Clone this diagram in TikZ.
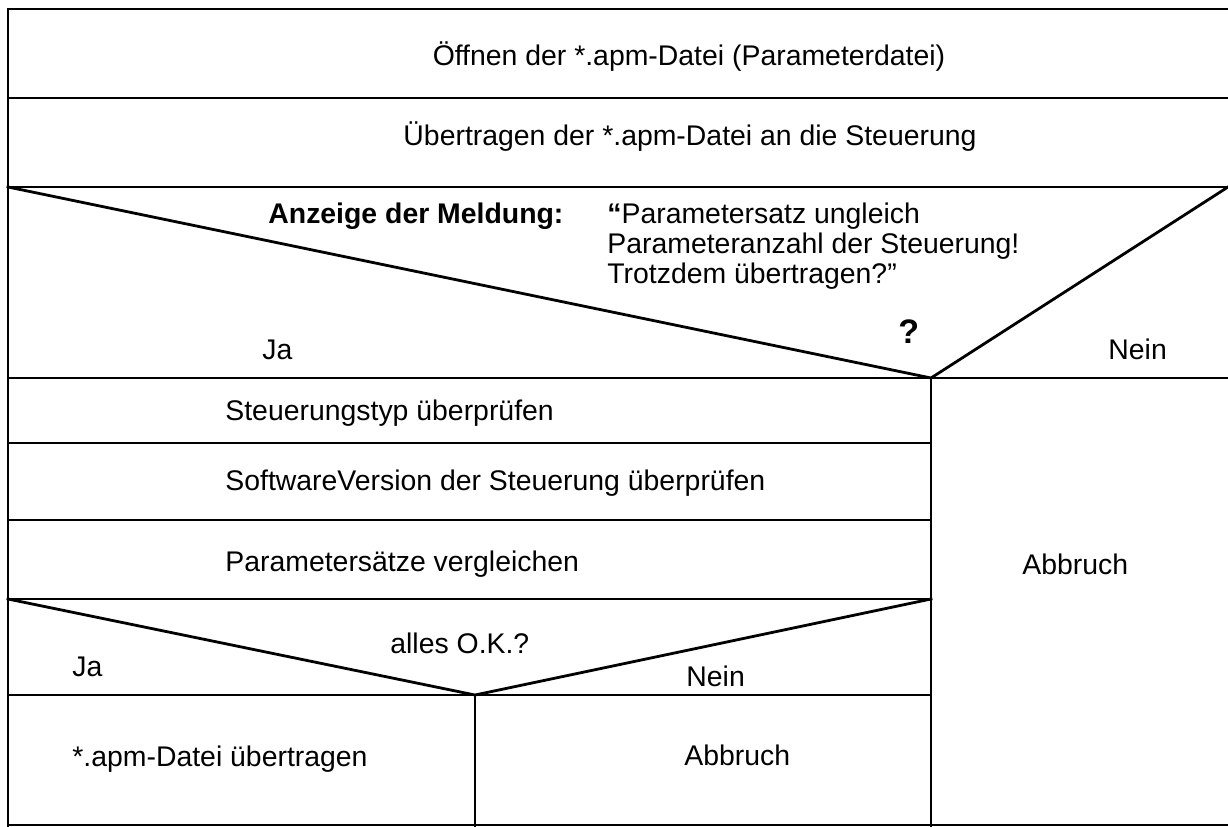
\documentclass[tikz,border=0pt]{standalone}
\usepackage{fontspec}
\setmainfont{Liberation Sans}
\begin{document}
\begin{tikzpicture}[x=0.5pt,y=-0.5pt,
  frame/.style={line width=1.4pt, line cap=rect},
  lbl/.style={inner sep=0pt, font=\fontsize{14.2}{17}\selectfont},
  qmark/.style={inner sep=0pt, font=\fontsize{17}{20}\selectfont\bfseries}]
\useasboundingbox (0,0) rectangle (1228,826);
\fill[white] (0,0) rectangle (1228,826);
% outer frame and full-width rows
\draw[frame] (1228,9) -- (8,9) -- (8,826);
\draw[frame] (8,98) -- (1228,98);
\draw[frame] (8,187) -- (1228,187);
\draw[frame] (8,825) -- (1228,825);
% first decision
\draw[frame] (8,187) -- (931,378) -- (1228,187);
\draw[frame] (8,378) -- (1228,378);
\draw[frame] (931,378) -- (931,826);
% Ja branch rows
\draw[frame] (8,443) -- (931,443);
\draw[frame] (8,520) -- (931,520);
\draw[frame] (8,599) -- (931,599);
% second decision
\draw[frame] (8,599) -- (475,695) -- (931,599);
\draw[frame] (8,695) -- (931,695);
\draw[frame] (475,695) -- (475,826);
% texts
\node[lbl,anchor=base] (t1) at (689,65) {Öffnen der *.apm-Datei (Parameterdatei)};
\node[lbl,anchor=base] (t2) at (690,145) {Übertragen der *.apm-Datei an die Steuerung};
\node[lbl,anchor=base west] (t3) at (268,223) {\bfseries Anzeige der Meldung:};
\node[lbl,anchor=base west] (t4a) at (607,223) {\textbf{“}Parametersatz ungleich};
\node[lbl,anchor=base west] (t4b) at (607,253) {Parameteranzahl der Steuerung!};
\node[lbl,anchor=base west] (t4c) at (607,283) {Trotzdem übertragen?”};
\node[qmark,anchor=base west] (q) at (898,343) {?};
\node[lbl,anchor=base west] (ja1) at (262,359) {Ja};
\node[lbl,anchor=base west] (nein1) at (1108,359) {Nein};
\node[lbl,anchor=base west] (s1) at (225,420) {Steuerungstyp überprüfen};
\node[lbl,anchor=base west] (s2) at (225,490) {SoftwareVersion der Steuerung überprüfen};
\node[lbl,anchor=base west] (s3) at (225,571) {Parametersätze vergleichen};
\node[lbl,anchor=base west] (ab1) at (1022,574) {Abbruch};
\node[lbl,anchor=base west] (ok) at (390,653) {alles O.K.?};
\node[lbl,anchor=base west] (ja2) at (72,676) {Ja};
\node[lbl,anchor=base west] (nein2) at (686,686) {Nein};
\node[lbl,anchor=base west] (s4) at (72,766) {*.apm-Datei übertragen};
\node[lbl,anchor=base west] (ab2) at (684,765) {Abbruch};
\end{tikzpicture}
\end{document}
